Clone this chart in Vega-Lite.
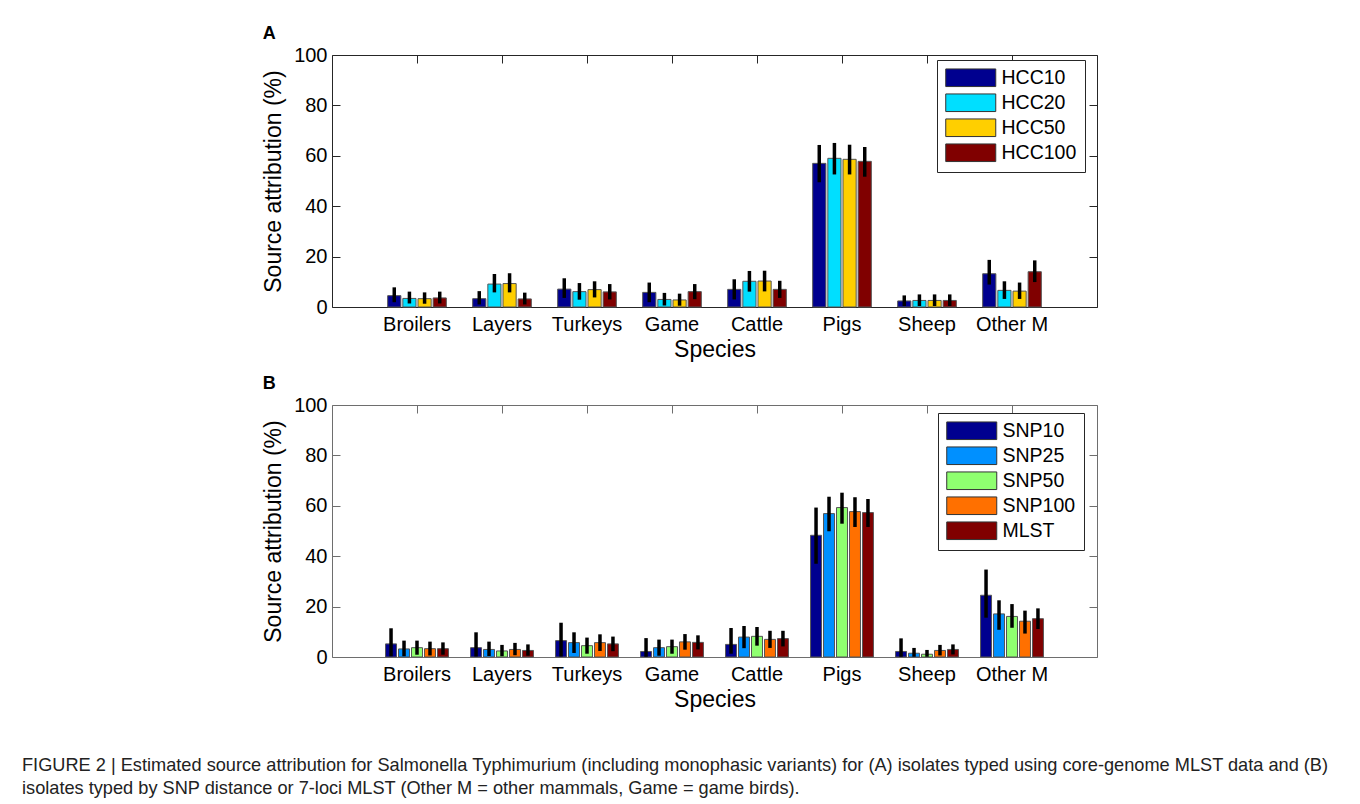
{
  "$schema": "https://vega.github.io/schema/vega-lite/v6.json",
  "background": "white",
  "padding": {"left": 22, "top": 24, "right": 10, "bottom": 5},
  "config": {
    "font": "Liberation Sans",
    "axis": {"labelFont": "Liberation Sans", "labelFontSize": 20, "labelColor": "#000000", "titleFont": "Liberation Sans", "titleFontSize": 23, "titleFontWeight": "normal", "titleColor": "#000000", "grid": false, "domain": false, "tickColor": "#262626", "tickSize": -8},
    "legend": {"labelFont": "Liberation Sans", "labelFontSize": 19.5, "labelColor": "#000000"}
  },
  "title": {
    "text": ["FIGURE 2 | Estimated source attribution for Salmonella Typhimurium (including monophasic variants) for (A) isolates typed using core-genome MLST data and (B)", "isolates typed by SNP distance or 7-loci MLST (Other M = other mammals, Game = game birds)."],
    "orient": "bottom", "anchor": "start", "frame": "group", "dx": -310, "offset": 45,
    "font": "Liberation Sans", "fontSize": 18.2, "fontWeight": "normal", "color": "#222222", "lineHeight": 23
  },
  "datasets": {
    "a": [
      {"species": "Broilers", "method": "HCC10", "value": 4.5, "lo": 1.9, "hi": 7.8},
      {"species": "Broilers", "method": "HCC20", "value": 3.4, "lo": 1.4, "hi": 6.1},
      {"species": "Broilers", "method": "HCC50", "value": 3.3, "lo": 1.3, "hi": 5.8},
      {"species": "Broilers", "method": "HCC100", "value": 3.6, "lo": 1.4, "hi": 6.1},
      {"species": "Layers", "method": "HCC10", "value": 3.3, "lo": 1.0, "hi": 6.3},
      {"species": "Layers", "method": "HCC20", "value": 9.1, "lo": 5.8, "hi": 13.1},
      {"species": "Layers", "method": "HCC50", "value": 9.3, "lo": 5.8, "hi": 13.4},
      {"species": "Layers", "method": "HCC100", "value": 3.2, "lo": 1.0, "hi": 5.7},
      {"species": "Turkeys", "method": "HCC10", "value": 7.1, "lo": 3.6, "hi": 11.4},
      {"species": "Turkeys", "method": "HCC20", "value": 6.1, "lo": 2.9, "hi": 9.5},
      {"species": "Turkeys", "method": "HCC50", "value": 6.9, "lo": 3.8, "hi": 10.2},
      {"species": "Turkeys", "method": "HCC100", "value": 6.0, "lo": 3.0, "hi": 9.1},
      {"species": "Game", "method": "HCC10", "value": 5.8, "lo": 1.9, "hi": 9.7},
      {"species": "Game", "method": "HCC20", "value": 3.0, "lo": 0.6, "hi": 5.6},
      {"species": "Game", "method": "HCC50", "value": 2.8, "lo": 0.5, "hi": 5.3},
      {"species": "Game", "method": "HCC100", "value": 6.1, "lo": 3.1, "hi": 9.1},
      {"species": "Cattle", "method": "HCC10", "value": 7.0, "lo": 3.0, "hi": 11.0},
      {"species": "Cattle", "method": "HCC20", "value": 10.2, "lo": 6.1, "hi": 14.3},
      {"species": "Cattle", "method": "HCC50", "value": 10.3, "lo": 6.2, "hi": 14.4},
      {"species": "Cattle", "method": "HCC100", "value": 7.0, "lo": 3.6, "hi": 10.4},
      {"species": "Pigs", "method": "HCC10", "value": 57.0, "lo": 49.5, "hi": 64.3},
      {"species": "Pigs", "method": "HCC20", "value": 59.0, "lo": 52.6, "hi": 65.1},
      {"species": "Pigs", "method": "HCC50", "value": 58.6, "lo": 52.6, "hi": 64.4},
      {"species": "Pigs", "method": "HCC100", "value": 57.8, "lo": 51.7, "hi": 63.5},
      {"species": "Sheep", "method": "HCC10", "value": 2.4, "lo": 0.4, "hi": 4.6},
      {"species": "Sheep", "method": "HCC20", "value": 2.6, "lo": 0.4, "hi": 5.0},
      {"species": "Sheep", "method": "HCC50", "value": 2.6, "lo": 0.4, "hi": 5.0},
      {"species": "Sheep", "method": "HCC100", "value": 2.6, "lo": 0.4, "hi": 5.0},
      {"species": "Other M", "method": "HCC10", "value": 13.2, "lo": 8.9, "hi": 18.7},
      {"species": "Other M", "method": "HCC20", "value": 6.6, "lo": 3.2, "hi": 10.2},
      {"species": "Other M", "method": "HCC50", "value": 6.3, "lo": 3.2, "hi": 9.7},
      {"species": "Other M", "method": "HCC100", "value": 14.0, "lo": 9.9, "hi": 18.5}
    ],
    "b": [
      {"species": "Broilers", "method": "SNP10", "value": 5.2, "lo": 0.3, "hi": 11.4},
      {"species": "Broilers", "method": "SNP25", "value": 3.2, "lo": 0.3, "hi": 6.5},
      {"species": "Broilers", "method": "SNP50", "value": 3.7, "lo": 0.9, "hi": 6.5},
      {"species": "Broilers", "method": "SNP100", "value": 3.3, "lo": 0.6, "hi": 6.1},
      {"species": "Broilers", "method": "MLST", "value": 3.3, "lo": 0.9, "hi": 5.8},
      {"species": "Layers", "method": "SNP10", "value": 3.7, "lo": 0.2, "hi": 9.8},
      {"species": "Layers", "method": "SNP25", "value": 3.0, "lo": 0.4, "hi": 6.1},
      {"species": "Layers", "method": "SNP50", "value": 2.4, "lo": 0.3, "hi": 4.8},
      {"species": "Layers", "method": "SNP100", "value": 3.0, "lo": 0.7, "hi": 5.6},
      {"species": "Layers", "method": "MLST", "value": 2.6, "lo": 0.5, "hi": 5.0},
      {"species": "Turkeys", "method": "SNP10", "value": 6.5, "lo": 0.2, "hi": 13.6},
      {"species": "Turkeys", "method": "SNP25", "value": 5.7, "lo": 1.6, "hi": 9.8},
      {"species": "Turkeys", "method": "SNP50", "value": 4.5, "lo": 1.3, "hi": 7.7},
      {"species": "Turkeys", "method": "SNP100", "value": 5.7, "lo": 2.4, "hi": 9.0},
      {"species": "Turkeys", "method": "MLST", "value": 5.2, "lo": 2.3, "hi": 8.1},
      {"species": "Game", "method": "SNP10", "value": 2.2, "lo": 0.1, "hi": 7.5},
      {"species": "Game", "method": "SNP25", "value": 3.7, "lo": 0.5, "hi": 6.9},
      {"species": "Game", "method": "SNP50", "value": 4.1, "lo": 1.3, "hi": 6.9},
      {"species": "Game", "method": "SNP100", "value": 6.0, "lo": 2.9, "hi": 9.1},
      {"species": "Game", "method": "MLST", "value": 5.8, "lo": 3.0, "hi": 8.6},
      {"species": "Cattle", "method": "SNP10", "value": 5.0, "lo": 1.3, "hi": 11.5},
      {"species": "Cattle", "method": "SNP25", "value": 7.9, "lo": 3.5, "hi": 12.3},
      {"species": "Cattle", "method": "SNP50", "value": 8.2, "lo": 4.5, "hi": 11.9},
      {"species": "Cattle", "method": "SNP100", "value": 7.0, "lo": 3.6, "hi": 10.4},
      {"species": "Cattle", "method": "MLST", "value": 7.3, "lo": 4.2, "hi": 10.4},
      {"species": "Pigs", "method": "SNP10", "value": 48.3, "lo": 37.0, "hi": 59.3},
      {"species": "Pigs", "method": "SNP25", "value": 56.9, "lo": 49.9, "hi": 63.6},
      {"species": "Pigs", "method": "SNP50", "value": 59.3, "lo": 52.9, "hi": 65.2},
      {"species": "Pigs", "method": "SNP100", "value": 57.7, "lo": 51.6, "hi": 63.4},
      {"species": "Pigs", "method": "MLST", "value": 57.3, "lo": 51.6, "hi": 62.7},
      {"species": "Sheep", "method": "SNP10", "value": 2.2, "lo": 0.1, "hi": 7.4},
      {"species": "Sheep", "method": "SNP25", "value": 1.5, "lo": 0.1, "hi": 3.6},
      {"species": "Sheep", "method": "SNP50", "value": 1.1, "lo": 0.1, "hi": 2.8},
      {"species": "Sheep", "method": "SNP100", "value": 2.6, "lo": 0.6, "hi": 4.8},
      {"species": "Sheep", "method": "MLST", "value": 3.0, "lo": 1.0, "hi": 5.0},
      {"species": "Other M", "method": "SNP10", "value": 24.5, "lo": 15.6, "hi": 34.7},
      {"species": "Other M", "method": "SNP25", "value": 17.1, "lo": 10.8, "hi": 22.5},
      {"species": "Other M", "method": "SNP50", "value": 16.1, "lo": 11.6, "hi": 21.0},
      {"species": "Other M", "method": "SNP100", "value": 14.2, "lo": 9.3, "hi": 18.4},
      {"species": "Other M", "method": "MLST", "value": 15.2, "lo": 11.1, "hi": 19.3}
    ]
  },
  "spacing": 12,
  "resolve": {"scale": {"x": "independent", "y": "independent", "xOffset": "independent", "color": "independent"}, "legend": {"color": "independent"}},
  "vconcat": [
    {
      "width": 765, "height": 252,
      "view": {"stroke": "#262626", "strokeWidth": 1},
      "title": {"text": "A", "anchor": "start", "frame": "bounds", "fontSize": 18, "fontWeight": "bold", "font": "Liberation Sans", "offset": 2, "color": "#000000"},
      "data": {"name": "a"},
      "resolve": {"axis": {"x": "independent", "y": "independent"}},
      "layer": [
        {
          "mark": {"type": "bar", "stroke": "#555555", "strokeWidth": 1},
          "encoding": {
            "x": {"field": "species", "type": "nominal", "sort": ["Broilers", "Layers", "Turkeys", "Game", "Cattle", "Pigs", "Sheep", "Other M"], "scale": {"paddingInner": 0.31, "paddingOuter": 0.655},
              "axis": {"orient": "bottom", "title": "Species", "ticks": false, "labelAngle": 0, "labelPadding": 7, "titlePadding": 4}},
            "xOffset": {"field": "method", "type": "nominal", "sort": ["HCC10", "HCC20", "HCC50", "HCC100"], "scale": {"paddingInner": 0.13, "paddingOuter": 0}},
            "y": {"field": "value", "type": "quantitative", "scale": {"domain": [0, 100], "nice": false},
              "axis": {"orient": "left", "values": [0, 20, 40, 60, 80, 100], "labelPadding": 13, "title": "Source attribution (%)", "titlePadding": 8}},
            "color": {"field": "method", "type": "nominal", "sort": ["HCC10", "HCC20", "HCC50", "HCC100"],
              "scale": {"domain": ["HCC10", "HCC20", "HCC50", "HCC100"], "range": ["#00008F", "#00DFFF", "#FFCF00", "#800000"]},
              "legend": {"title": null, "orient": "none", "legendX": 605, "legendY": 5, "strokeColor": "#262626", "fillColor": "white", "padding": 8, "rowPadding": 2,
                "symbolType": "M-2.84,-1H2.84V1H-2.84Z", "symbolSize": 310, "symbolStrokeColor": "#333333", "symbolStrokeWidth": 1, "symbolOpacity": 1, "symbolOffset": 16, "labelOffset": 21}}
          }
        },
        {
          "mark": {"type": "rule", "color": "black", "strokeWidth": 3.5},
          "encoding": {
            "x": {"field": "species", "type": "nominal", "sort": ["Broilers", "Layers", "Turkeys", "Game", "Cattle", "Pigs", "Sheep", "Other M"],
              "axis": {"orient": "top", "labels": false, "title": null}},
            "xOffset": {"field": "method", "type": "nominal", "sort": ["HCC10", "HCC20", "HCC50", "HCC100"]},
            "y": {"field": "lo", "type": "quantitative", "scale": {"domain": [0, 100], "nice": false},
              "axis": {"orient": "right", "values": [0, 20, 40, 60, 80, 100], "labels": false, "title": null}},
            "y2": {"field": "hi"}
          }
        }
      ]
    },
    {
      "width": 765, "height": 252,
      "view": {"stroke": "#6e6e6e", "strokeWidth": 1},
      "title": {"text": "B", "anchor": "start", "frame": "bounds", "fontSize": 18, "fontWeight": "bold", "font": "Liberation Sans", "offset": 2, "color": "#000000"},
      "data": {"name": "b"},
      "resolve": {"axis": {"x": "independent", "y": "independent"}},
      "layer": [
        {
          "mark": {"type": "bar", "stroke": "#555555", "strokeWidth": 1},
          "encoding": {
            "x": {"field": "species", "type": "nominal", "sort": ["Broilers", "Layers", "Turkeys", "Game", "Cattle", "Pigs", "Sheep", "Other M"], "scale": {"paddingInner": 0.26, "paddingOuter": 0.63},
              "axis": {"orient": "bottom", "title": "Species", "ticks": false, "labelAngle": 0, "labelPadding": 7, "titlePadding": 4}},
            "xOffset": {"field": "method", "type": "nominal", "sort": ["SNP10", "SNP25", "SNP50", "SNP100", "MLST"], "scale": {"paddingInner": 0.154, "paddingOuter": 0}},
            "y": {"field": "value", "type": "quantitative", "scale": {"domain": [0, 100], "nice": false},
              "axis": {"orient": "left", "values": [0, 20, 40, 60, 80, 100], "labelPadding": 13, "title": "Source attribution (%)", "titlePadding": 8, "tickColor": "#6e6e6e"}},
            "color": {"field": "method", "type": "nominal", "sort": ["SNP10", "SNP25", "SNP50", "SNP100", "MLST"],
              "scale": {"domain": ["SNP10", "SNP25", "SNP50", "SNP100", "MLST"], "range": ["#00008F", "#0090FF", "#8FFF70", "#FF7000", "#800000"]},
              "legend": {"title": null, "orient": "none", "legendX": 606, "legendY": 8, "strokeColor": "#262626", "fillColor": "white", "padding": 8, "rowPadding": 2,
                "symbolType": "M-2.84,-1H2.84V1H-2.84Z", "symbolSize": 310, "symbolStrokeColor": "#333333", "symbolStrokeWidth": 1, "symbolOpacity": 1, "symbolOffset": 16, "labelOffset": 21}}
          }
        },
        {
          "mark": {"type": "rule", "color": "black", "strokeWidth": 3.5},
          "encoding": {
            "x": {"field": "species", "type": "nominal", "sort": ["Broilers", "Layers", "Turkeys", "Game", "Cattle", "Pigs", "Sheep", "Other M"],
              "axis": {"orient": "top", "labels": false, "title": null, "tickColor": "#6e6e6e"}},
            "xOffset": {"field": "method", "type": "nominal", "sort": ["SNP10", "SNP25", "SNP50", "SNP100", "MLST"]},
            "y": {"field": "lo", "type": "quantitative", "scale": {"domain": [0, 100], "nice": false},
              "axis": {"orient": "right", "values": [0, 20, 40, 60, 80, 100], "labels": false, "title": null, "tickColor": "#6e6e6e"}},
            "y2": {"field": "hi"}
          }
        }
      ]
    }
  ]
}
